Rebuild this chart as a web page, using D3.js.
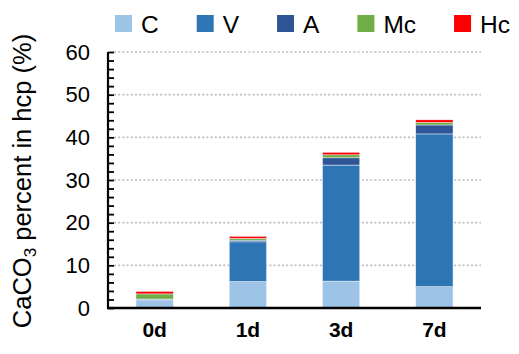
<!DOCTYPE html>
<html>
<head>
<meta charset="utf-8">
<script src="https://cdn.jsdelivr.net/npm/d3@7"></script>
<style>
  body { margin: 0; background: #fff; }
  text { font-family: "Liberation Sans", Arial, sans-serif; }
</style>
</head>
<body>
<svg id="chart" width="519" height="354"></svg>
<script>
  // data
  const ages = ["0d", "1d", "3d", "7d"];
  const phases = ["C", "V", "A", "Mc", "Hc"];
  const C  = [1.9, 6.2, 6.3, 5.0];
  const V  = [0.1, 9.3, 27.2, 35.8];
  const A  = [0.1, 0.4, 1.7, 2.1];
  const Mc = [1.2, 0.4, 0.7, 0.6];
  const Hc = [0.6, 0.5, 0.6, 0.6];
  const yTicks = [0, 10, 20, 30, 40, 50, 60];
  const colors = ["#9dc3e6", "#2e75b6", "#2f5597", "#70ad47", "#ff0000"];

  const series = { C, V, A, Mc, Hc };
  const rows = ages.map((a, i) => {
    const r = { age: a };
    phases.forEach(p => r[p] = series[p][i]);
    return r;
  });

  const margin = { top: 52, right: 38, bottom: 46, left: 108 };
  const svg = d3.select("#chart");
  const W = 519, H = 354;
  const w = W - margin.left - margin.right;
  const h = H - margin.top - margin.bottom;

  const x = d3.scaleBand().domain(ages).range([0, w]).paddingInner(0.6).paddingOuter(0.3);
  const y = d3.scaleLinear().domain([0, 60]).range([h, 0]);
  const color = d3.scaleOrdinal().domain(phases).range(colors);

  const g = svg.append("g").attr("transform", `translate(${margin.left},${margin.top})`);

  // dotted grid
  g.append("g")
    .selectAll("line")
    .data(yTicks.slice(1))
    .join("line")
    .attr("x1", 6).attr("x2", w)
    .attr("y1", d => y(d)).attr("y2", d => y(d))
    .attr("stroke", "#bdbdbd")
    .attr("stroke-width", 1.6)
    .attr("stroke-dasharray", "2,2.2");

  // stacked bars
  const stacked = d3.stack().keys(phases)(rows);
  g.append("g")
    .selectAll("g")
    .data(stacked)
    .join("g")
    .attr("fill", d => color(d.key))
    .selectAll("rect")
    .data(d => d)
    .join("rect")
    .attr("x", d => x(d.data.age))
    .attr("width", x.bandwidth())
    .attr("y", d => y(d[1]))
    .attr("height", d => y(d[0]) - y(d[1]))
    .attr("stroke", "#eef4fa")
    .attr("stroke-width", 0.5);

  // y axis: inward ticks every 2, labels every 10
  const yAxis = g.append("g")
    .call(d3.axisLeft(y)
      .tickValues(d3.range(0, 61, 2))
      .tickSize(-6)
      .tickPadding(18)
      .tickFormat(d => d % 10 === 0 ? d : ""));
  yAxis.select(".domain").attr("stroke", "#000").attr("stroke-width", 2.2)
    .attr("d", `M0,${y(60)}V${h}`);
  yAxis.selectAll(".tick line").attr("stroke", "#000").attr("stroke-width", 1.8);
  yAxis.selectAll(".tick text")
    .attr("font-size", 22)
    .attr("fill", "#000")
    .style("font-family", "'Liberation Sans', Arial, sans-serif");

  // x axis
  const xAxis = g.append("g")
    .attr("transform", `translate(0,${h})`)
    .call(d3.axisBottom(x).tickSize(0).tickPadding(14));
  xAxis.select(".domain").attr("stroke", "#000").attr("stroke-width", 2.6)
    .attr("d", `M-1,0H${w}`);
  xAxis.selectAll(".tick text")
    .attr("font-size", 21)
    .attr("font-weight", "bold")
    .attr("fill", "#000")
    .style("font-family", "'Liberation Sans', Arial, sans-serif");

  // y title
  const title = svg.append("text")
    .attr("transform", `translate(31,${margin.top + h / 2 + 1}) rotate(-90)`)
    .attr("text-anchor", "middle")
    .attr("font-size", 25.5)
    .attr("fill", "#000");
  title.append("tspan").text("CaCO");
  title.append("tspan").text("3").attr("font-size", 17).attr("dy", 5);
  title.append("tspan").text(" percent in hcp (%)").attr("dy", -5);

  // legend
  const legend = svg.append("g").attr("transform", "translate(115,15)");
  let lx = 0;
  phases.forEach(p => {
    const item = legend.append("g").attr("transform", `translate(${lx},0)`);
    item.append("rect").attr("width", 17).attr("height", 17).attr("fill", color(p));
    const t = item.append("text")
      .attr("x", 26).attr("y", 17.5)
      .attr("font-size", 24.5)
      .attr("fill", "#000")
      .text(p);
    lx += 26 + t.node().getComputedTextLength() + 38;
  });
</script>
</body>
</html>
